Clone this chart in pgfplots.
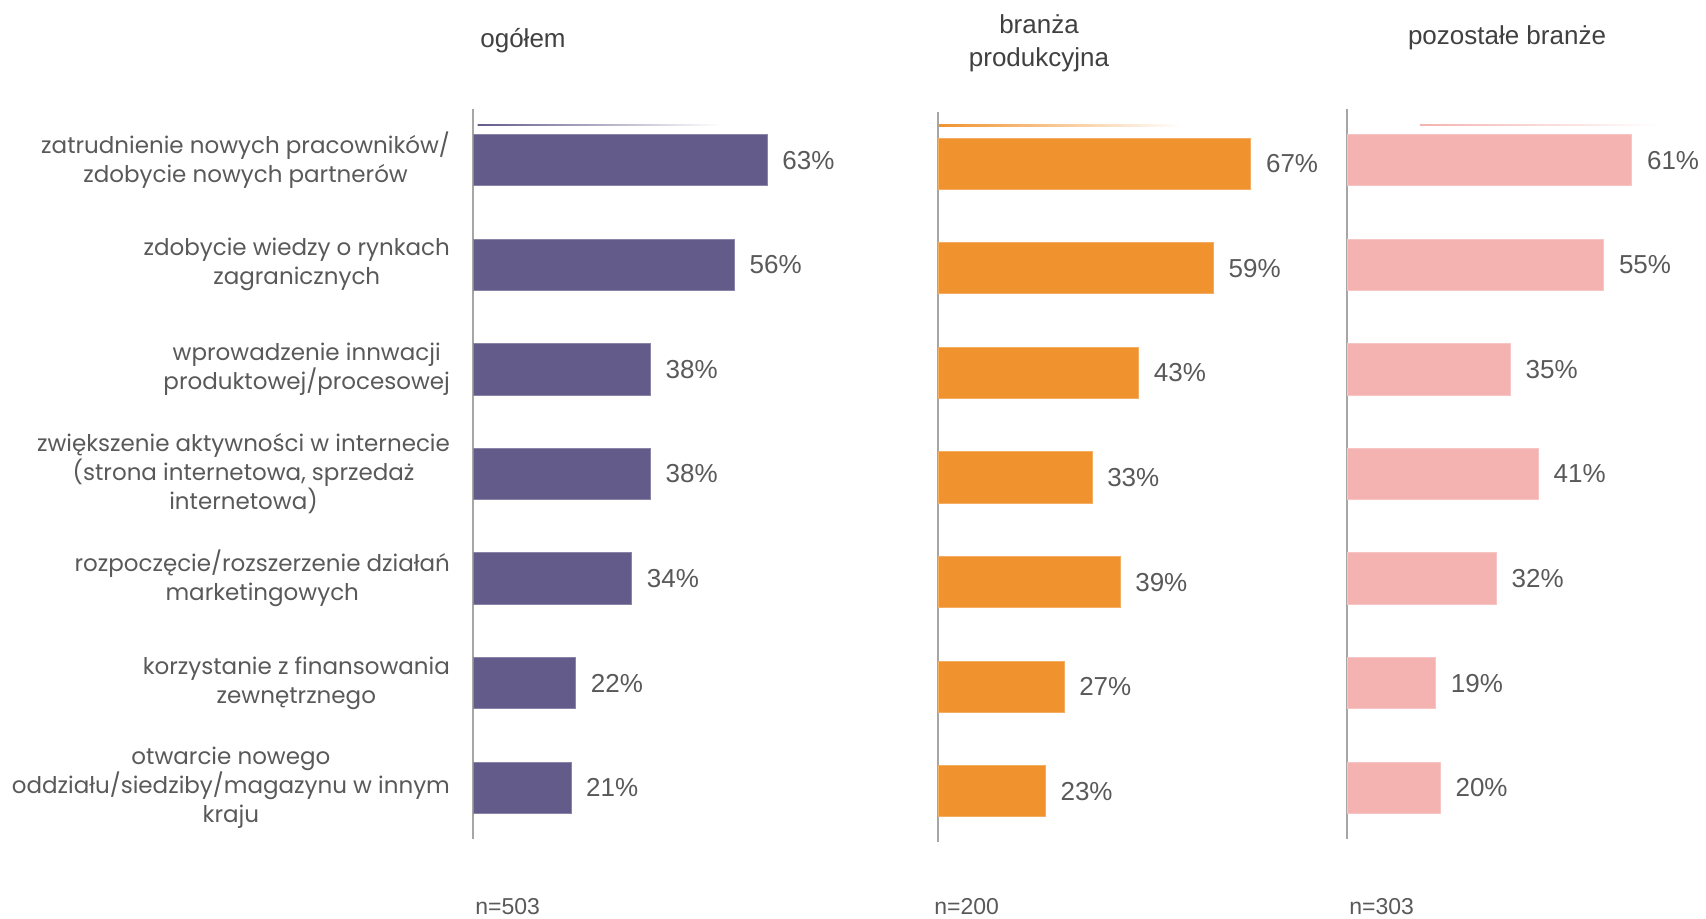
\documentclass[border=0pt]{standalone}
\usepackage{fontspec}
\setmainfont{Liberation Sans}
\newfontfamily\catfont{Poppins}
\usepackage{pgfplots}
\usepackage{pgfplotstable}
\pgfplotsset{compat=1.18}

\definecolor{cPurple}{HTML}{635B8A}
\definecolor{cOrange}{HTML}{F0932F}
\definecolor{cPink}{HTML}{F4B3B0}
\definecolor{cText}{HTML}{595959}
\definecolor{cTitle}{HTML}{404040}
\definecolor{cAxis}{HTML}{A6A6A6}

% values per panel, category index 0 = top row
\pgfplotstableread{
y v
0 63
1 56
2 38
3 38
4 34
5 22
6 21
}\dataA
\pgfplotstableread{
y v
0 67
1 59
2 43
3 33
4 39
5 27
6 23
}\dataB
\pgfplotstableread{
y v
0 61
1 55
2 35
3 41
4 32
5 19
6 20
}\dataC

\pgfplotsset{
  panel/.style={
    scale only axis, width=163.45pt, height=365pt,
    xmin=0, xmax=70, ymin=-0.49, ymax=6.49, y dir=reverse,
    axis x line=none, axis y line*=left,
    y axis line style={cAxis, line width=0.8pt, -},
    ytick={0,...,6}, major tick length=0pt, clip=false, anchor=north west,
    xbar, bar width=0.49, point meta=x,
    /pgf/number format/assume math mode=true,
    nodes near coords={\pgfmathprintnumber{\pgfplotspointmeta}\%},
    nodes near coords style={anchor=west, xshift=4pt,
      font=\fontsize{13}{15}\selectfont, text=cText},
    yticklabel style={font=\catfont\fontsize{11.5}{14.5}\selectfont, text=cText,
      align=center, anchor=east, xshift=-8pt},
  },
}

\begin{document}
\begin{tikzpicture}
\useasboundingbox (0,0) rectangle (853pt,459.5pt);

\begin{axis}[panel, at={(236.5pt,405pt)},
  yticklabels={
    {zatrudnienie nowych pracowników/\\zdobycie nowych partnerów},
    {zdobycie wiedzy o rynkach\\zagranicznych},
    {wprowadzenie innwacji\\produktowej/procesowej},
    {zwiększenie aktywności w internecie\\(strona internetowa, sprzedaż\\internetowa)},
    {rozpoczęcie/rozszerzenie działań\\marketingowych},
    {korzystanie z finansowania\\zewnętrznego},
    {otwarcie nowego\\oddziału/siedziby/magazynu w innym\\kraju}}]
  \addplot[fill=cPurple, draw=cPurple!75!white, line width=0.5pt] table[x=v, y=y]{\dataA};
  \shade[left color=cPurple, right color=white] (axis cs:1,-0.345) rectangle (axis cs:53,-0.33);
\end{axis}

\begin{axis}[panel, at={(469pt,403.25pt)}, yticklabels={}]
  \addplot[fill=cOrange, draw=cOrange!75!white, line width=0.5pt] table[x=v, y=y]{\dataB};
  \shade[left color=cOrange, right color=white] (axis cs:0.2,-0.375) rectangle (axis cs:52,-0.36);
\end{axis}

\begin{axis}[panel, at={(673.5pt,405pt)}, yticklabels={}]
  \addplot[fill=cPink, draw=cPink!75!white, line width=0.5pt] table[x=v, y=y]{\dataC};
  \shade[left color=cPink, right color=white] (axis cs:15.6,-0.345) rectangle (axis cs:67,-0.33);
\end{axis}

\begin{scope}[font=\fontsize{13}{16.3}\selectfont, text=cTitle]
  \node at (261.5pt,439pt) {ogółem};
  \node[align=center] at (519.5pt,437.75pt) {branża\\produkcyjna};
  \node at (753.5pt,440.5pt) {pozostałe branże};
\end{scope}
\begin{scope}[font=\fontsize{11.5}{13}\selectfont, text=cText, inner sep=0pt]
  \node[anchor=west] at (237.5pt,6.2pt) {n=503};
  \node[anchor=west] at (467pt,6.2pt) {n=200};
  \node[anchor=west] at (674.5pt,6.2pt) {n=303};
\end{scope}
\end{tikzpicture}
\end{document}
